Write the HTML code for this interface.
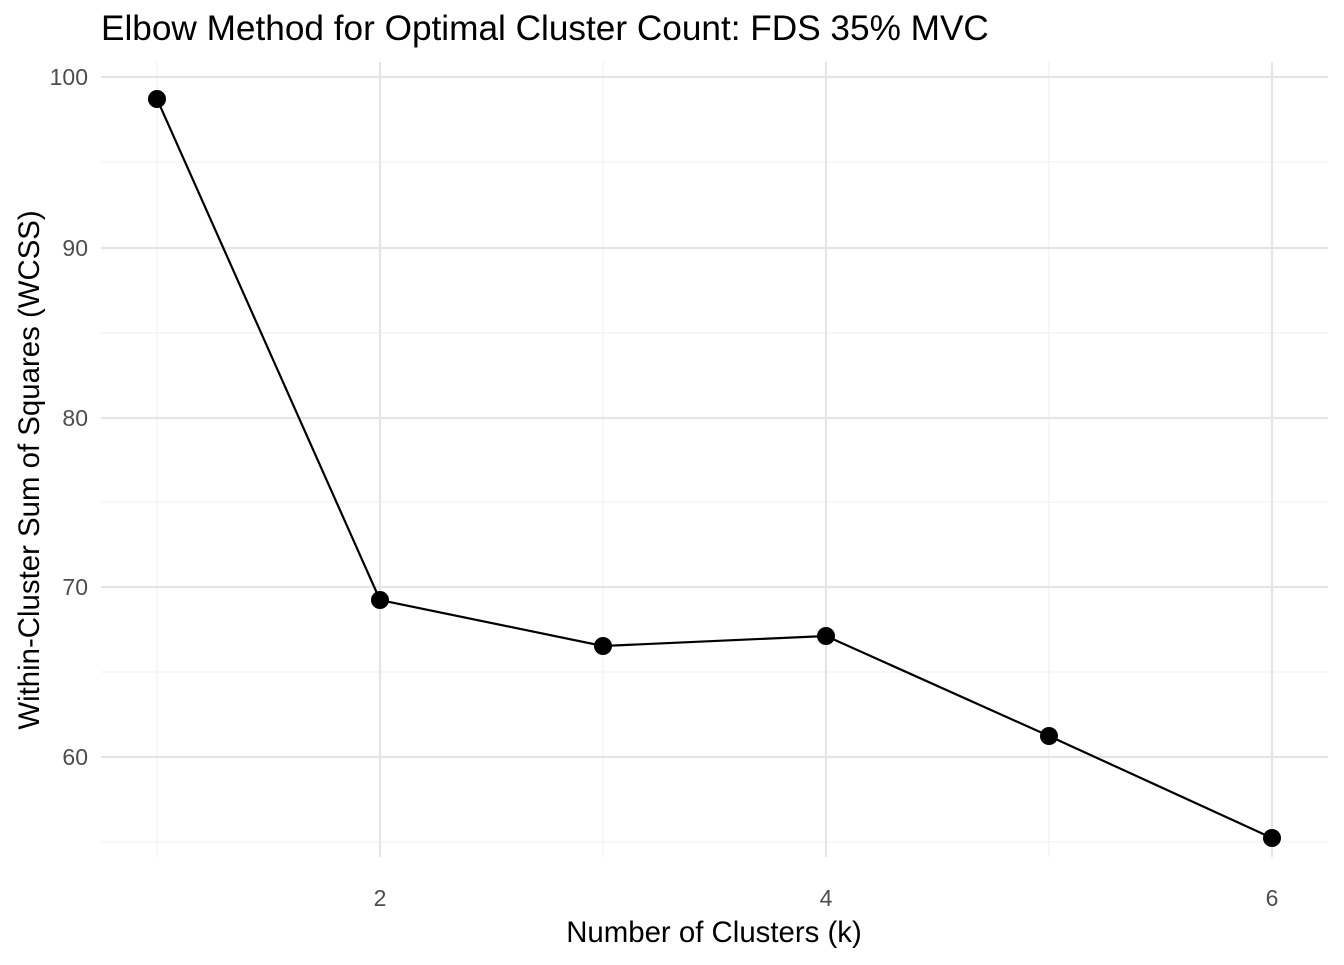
<!DOCTYPE html>
<html><head><meta charset="utf-8"><style>body{margin:0;background:#fff}</style></head><body>
<svg width="1344" height="960" xmlns="http://www.w3.org/2000/svg" font-family="Liberation Sans, Arial, sans-serif">
<rect width="1344" height="960" fill="#fff"/>
<g stroke="#efefef" stroke-width="1.1">
<line x1="101" x2="1328" y1="162" y2="162"/><line x1="101" x2="1328" y1="333" y2="333"/>
<line x1="101" x2="1328" y1="502" y2="502"/><line x1="101" x2="1328" y1="672" y2="672"/>
<line x1="101" x2="1328" y1="842" y2="842"/>
<line x1="157" x2="157" y1="62" y2="857"/><line x1="603" x2="603" y1="62" y2="857"/><line x1="1049" x2="1049" y1="62" y2="857"/>
</g>
<g stroke="#e5e5e5" stroke-width="2.2">
<line x1="101" x2="1328" y1="77" y2="77"/><line x1="101" x2="1328" y1="248" y2="248"/>
<line x1="101" x2="1328" y1="418" y2="418"/><line x1="101" x2="1328" y1="587" y2="587"/>
<line x1="101" x2="1328" y1="757" y2="757"/>
<line x1="380" x2="380" y1="62" y2="857"/><line x1="826" x2="826" y1="62" y2="857"/><line x1="1272" x2="1272" y1="62" y2="857"/>
</g>
<polyline points="157,99 380,600 603,646 826,636 1049,736 1272,838" fill="none" stroke="#000" stroke-width="2.2"/>
<g fill="#000"><circle cx="157" cy="99" r="9"/><circle cx="380" cy="600" r="9"/><circle cx="603" cy="646" r="9"/><circle cx="826" cy="636" r="9"/><circle cx="1049" cy="736" r="9"/><circle cx="1272" cy="838" r="9"/></g>
<g fill="#4d4d4d" font-size="23" text-anchor="end">
<text x="88" y="85">100</text><text x="88" y="256">90</text><text x="88" y="426">80</text><text x="88" y="595">70</text><text x="88" y="765">60</text>
</g>
<g fill="#4d4d4d" font-size="23" text-anchor="middle">
<text x="380" y="906">2</text><text x="826" y="906">4</text><text x="1272" y="906">6</text>
</g>
<text x="714" y="942" font-size="29.4" text-anchor="middle">Number of Clusters (k)</text>
<text transform="translate(39,470) rotate(-90)" font-size="29.4" text-anchor="middle">Within-Cluster Sum of Squares (WCSS)</text>
<text x="101" y="40" font-size="35.2">Elbow Method for Optimal Cluster Count: FDS 35% MVC</text>
</svg>
</body></html>
